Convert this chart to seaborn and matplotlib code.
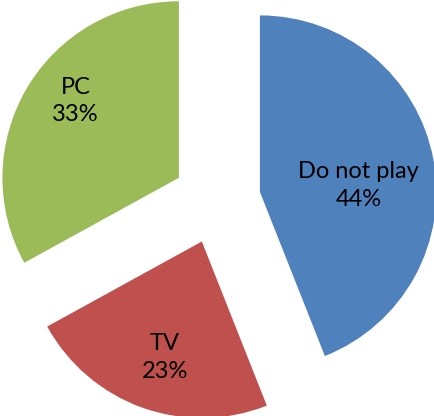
import numpy as np
import matplotlib
matplotlib.use("Agg")
import matplotlib.pyplot as plt
import seaborn as sns

# Share of respondents by where they play
categories = ["Do not play", "TV", "PC"]
shares = [44, 23, 33]
colors = ["#4F81BD", "#C0504D", "#9BBB59"]

sns.set_theme(style="white")
plt.rcParams["font.family"] = ["Lato", "DejaVu Sans"]

fig = plt.figure(figsize=(4.34, 4.16), dpi=100)
ax = fig.add_axes([0, 0, 1, 1])

wedges, _texts, autotexts = ax.pie(
    shares,
    colors=colors,
    startangle=90,
    counterclock=False,
    explode=[0.249] * len(shares),
    radius=1.0,
    autopct="%d%%",
    pctdistance=0.6,
    wedgeprops=dict(linewidth=0),
    textprops=dict(fontsize=17, color="black"),
)

# Label placement inside each wedge: (radial fraction, angular shift in degrees)
label_place = [(0.56, -7.0), (0.69, 2.0), (0.73, -6.0)]
for w, t, name, share, (frac, shift) in zip(wedges, autotexts, categories, shares, label_place):
    cx, cy = w.center
    mid = np.deg2rad((w.theta1 + w.theta2) / 2 + shift)
    t.set_position((cx + frac * w.r * np.cos(mid), cy + frac * w.r * np.sin(mid)))
    t.set_text(f"{name}\n{share}%")
    t.set_ha("center")
    t.set_va("center")
    t.set_linespacing(1.4)

ax.set_xlim(-1.228, 1.231)
ax.set_ylim(-1.223, 1.134)
ax.set_aspect("auto")
ax.axis("off")

fig.savefig("out.png", dpi=100)
